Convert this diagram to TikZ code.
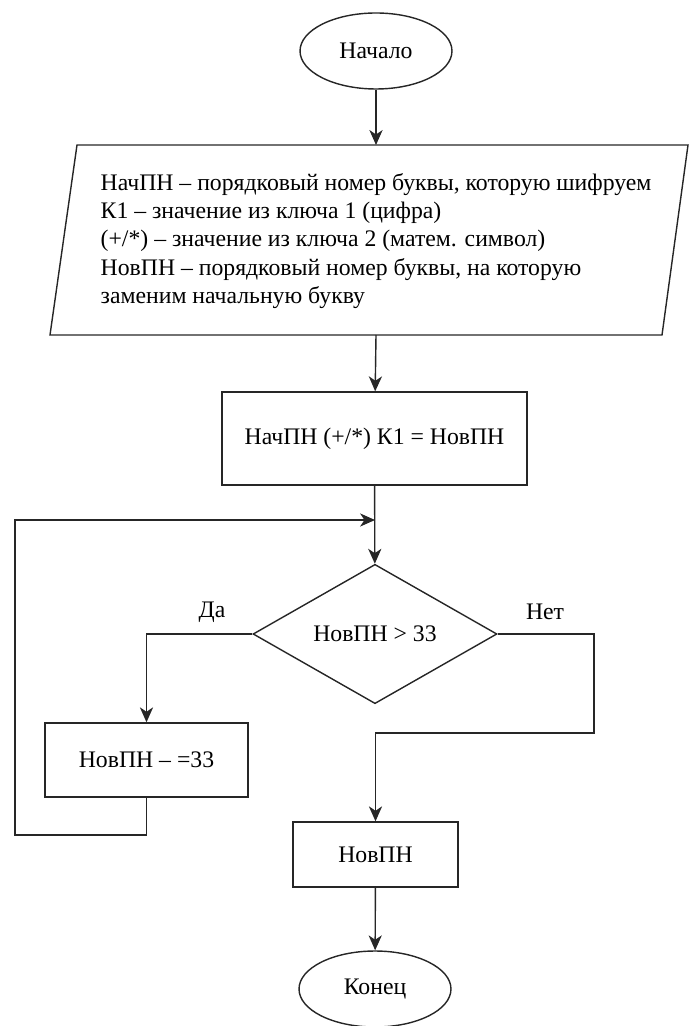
\documentclass[tikz,border=0pt]{standalone}
\usepackage{fontspec}
\setmainfont{Liberation Serif}
\usetikzlibrary{shapes.geometric,arrows.meta}
\begin{document}
\begin{tikzpicture}[>={Stealth[length=8.5pt,width=7.5pt,inset=2.5pt]}, x=0.02cm, y=-0.02cm,
  line width=0.8pt, draw=black!85,
  font=\fontsize{13.5}{16}\selectfont]
\useasboundingbox (0,0) rectangle (690,1026);
\tikzset{oval/.style={draw, ellipse, minimum width=3.04cm, minimum height=1.52cm, inner sep=0pt},
  box/.style={draw, rectangle, inner sep=0pt}}

\node[oval](start) at (376,51){Начало};

% parallelogram with the data
\draw (50,335) -- (77,145) -- (688,145) -- (662,335) -- cycle;
\node[align=left, anchor=west, inner sep=0pt](info) at (100,241){НачПН – порядковый номер буквы, которую шифруем\\К1 – значение из ключа 1 (цифра)\\(+/*) – значение из ключа 2 (матем. символ)\\НовПН – порядковый номер буквы, на которую\\заменим начальную букву};
\coordinate(infoN) at (376,145);
\coordinate(infoS) at (376,335);

\node[box, minimum width=6.1cm, minimum height=1.86cm](calc) at (374.5,438.5){НачПН (+/*) К1 = НовПН};
\node[draw, diamond, minimum width=4.88cm, minimum height=2.64cm, inner sep=0pt](cond) at (375,634){НовПН > 33};
\node[box, minimum width=4.06cm, minimum height=1.48cm](sub) at (146.5,760){НовПН – =33};
\node[box, minimum width=3.3cm, minimum height=1.3cm](res) at (375.5,854.5){НовПН};
\node[oval](stop) at (375,989){Конец};

\node(yes) at (212,612){Да};
\node(no) at (545,612){Нет};

\coordinate(join) at (375,520);
\coordinate(loopA) at (15,835);
\coordinate(noA) at (594,733);

\draw[->](start)--(infoN);
\draw[->](infoS)--(calc);
\draw[->](calc)--(cond);
\draw[->](cond.west)-|(sub.north);
\draw[->](sub.south)|-(loopA)|-(join);
\draw[->](cond.east)-|(noA)-|(res.north);
\draw[->](res)--(stop);

\end{tikzpicture}
\end{document}
